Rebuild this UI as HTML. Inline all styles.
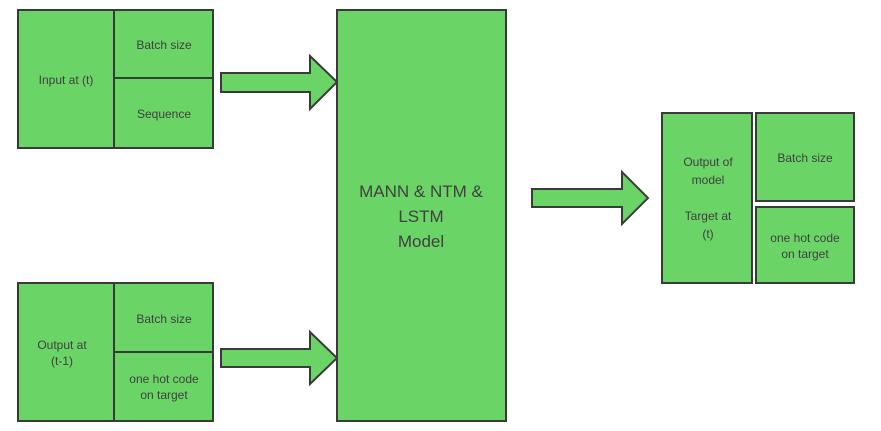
<!DOCTYPE html>
<html><head><style>body{margin:0;background:#fff}svg{display:block}text{font-family:"Liberation Sans",sans-serif;fill:#404040}</style></head>
<body>
<svg width="881" height="431" viewBox="0 0 881 431" xmlns="http://www.w3.org/2000/svg">
<g fill="#6bd466" stroke="#3a3a3a" stroke-width="2">
<rect x="18" y="10" width="195" height="138"/>
<line x1="114" y1="10" x2="114" y2="148"/>
<line x1="114" y1="78" x2="213" y2="78"/>
<rect x="18" y="283" width="195" height="138"/>
<line x1="114" y1="283" x2="114" y2="421"/>
<line x1="114" y1="352" x2="213" y2="352"/>
<rect x="337" y="10" width="169" height="411"/>
<polygon points="221,73 310,73 310,56 337,82 310,109 310,92 221,92"/>
<polygon points="221,349 310,349 310,332 337,358 310,384 310,367 221,367"/>
<polygon points="532,189 622,189 622,172 648,198 622,224 622,207 532,207"/>
<rect x="662" y="113" width="90" height="170"/>
<rect x="756" y="113" width="98" height="88"/>
<rect x="756" y="207" width="98" height="76"/>
</g>
<g font-size="12" text-anchor="middle">
<text x="66" y="84">Input at (t)</text>
<text x="164" y="49">Batch size</text>
<text x="164" y="118">Sequence</text>
<text x="62" y="349">Output at</text>
<text x="62" y="365">(t-1)</text>
<text x="164" y="323">Batch size</text>
<text x="164" y="383">one hot code</text>
<text x="164" y="399">on target</text>
<text x="805" y="162">Batch size</text>
<text x="805" y="242">one hot code</text>
<text x="805" y="258">on target</text>
<text x="708" y="166">Output of</text>
<text x="708" y="184">model</text>
<text x="708" y="220">Target at</text>
<text x="708" y="238">(t)</text>
</g>
<g font-size="17" text-anchor="middle">
<text x="421" y="197">MANN &amp; NTM &amp;</text>
<text x="421" y="222">LSTM</text>
<text x="421" y="247">Model</text>
</g>
</svg>
</body></html>
